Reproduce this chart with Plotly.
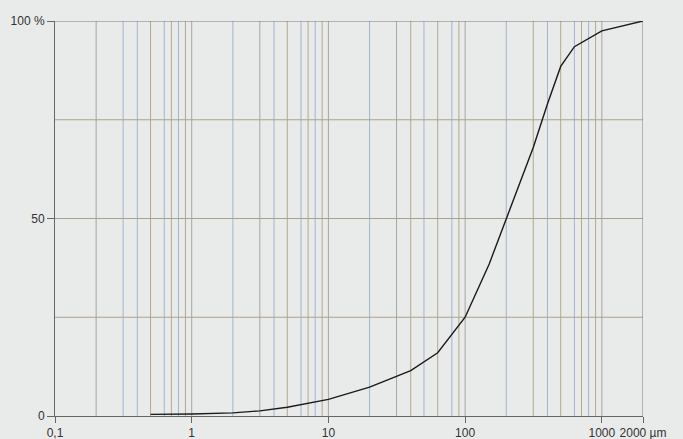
import plotly.graph_objects as go

# cumulative distribution (µm, %)
size_um = [0.5, 1, 2, 3.15, 5, 10, 20, 40, 63, 100, 150, 200, 315, 400, 500, 630, 1000, 2000]
cum_pct = [0.4, 0.5, 0.8, 1.3, 2.2, 4.2, 7.3, 11.5, 16, 25, 38.5, 50, 68, 79, 88.5, 93.5, 97.5, 100]

# vertical sieve grid lines, grouped by colour
grid_blue = [0.315, 0.4, 0.63, 0.8, 2, 4, 6.3, 8, 20, 50, 80, 200, 400, 630, 800]
grid_olive = [0.5, 0.71, 0.9, 5, 7.1, 9, 40, 63, 90, 315, 500, 710, 900]
grid_gray = [0.2, 1, 3.15, 10, 31.5, 100, 1000]
h_grid = [25, 50, 75]

x_ticks = [0.1, 1, 10, 100, 1000, 2000]
x_ticktext = ["0,1", "1", "10", "100", "1000", "2000 µm"]
y_ticks = [0, 50, 100]
y_ticktext = ["0", "50", "100 %"]

X_MIN, X_MAX = 0.1, 2000
Y_MIN, Y_MAX = 0, 100


def vlines(vals):
    xs, ys = [], []
    for v in vals:
        xs += [v, v, None]
        ys += [Y_MIN, Y_MAX, None]
    return xs, ys


def hlines(vals):
    xs, ys = [], []
    for v in vals:
        xs += [X_MIN, X_MAX, None]
        ys += [v, v, None]
    return xs, ys


fig = go.Figure()
for vals, col in [(grid_blue, "#a3b5cc"), (grid_olive, "#b3a98b"), (grid_gray, "#a6a6a3")]:
    xs, ys = vlines(vals)
    fig.add_trace(go.Scatter(x=xs, y=ys, mode="lines", line=dict(color=col, width=1),
                             hoverinfo="skip", showlegend=False))
xs, ys = hlines(h_grid)
fig.add_trace(go.Scatter(x=xs, y=ys, mode="lines", line=dict(color="#a9a38e", width=1),
                         hoverinfo="skip", showlegend=False))
# frame top and right
fig.add_trace(go.Scatter(x=[X_MIN, X_MAX, X_MAX], y=[Y_MAX, Y_MAX, Y_MIN], mode="lines",
                         line=dict(color="#7a7a7a", width=1), hoverinfo="skip", showlegend=False))

fig.add_trace(go.Scatter(x=size_um, y=cum_pct, mode="lines",
                         line=dict(color="#1a1a1a", width=1.4), showlegend=False))

fig.update_layout(
    width=683, height=439,
    margin=dict(l=55, r=40, t=21, b=23),
    paper_bgcolor="#e9eaea", plot_bgcolor="#e9eaea",
    font=dict(family="Liberation Sans, Arial, sans-serif", size=12, color="#333333"),
)
fig.update_xaxes(type="log", range=[-1, 3.30103], tickvals=x_ticks, ticktext=x_ticktext,
                 showgrid=False, zeroline=False, showline=True, linecolor="#666666", linewidth=1,
                 ticks="outside", ticklen=6, tickcolor="#666666", automargin=False)
fig.update_yaxes(range=[0, 100], tickvals=y_ticks, ticktext=y_ticktext,
                 showgrid=False, zeroline=False, showline=True, linecolor="#666666", linewidth=1,
                 ticks="outside", ticklen=7, tickcolor="#666666", automargin=False)

fig.write_html("out.html")
